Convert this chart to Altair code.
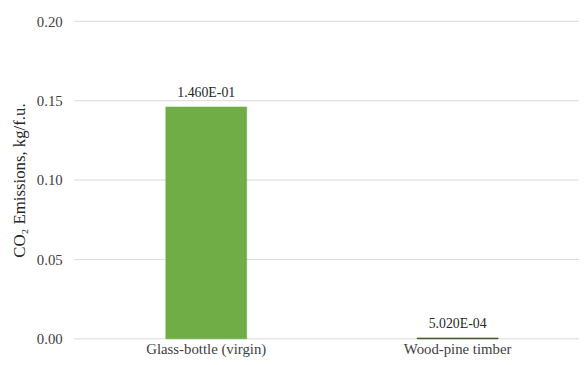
import altair as alt
import pandas as pd

categories = ["Glass-bottle (virgin)", "Wood-pine timber"]
values = [0.146, 0.000502]
labels = ["1.460E-01", "5.020E-04"]
y_ticks = [0, 0.05, 0.1, 0.15, 0.2]

df = pd.DataFrame({"cat": categories, "val": values, "lab": labels})
grid_df = pd.DataFrame({"t": y_ticks})

font = "Liberation Serif"
W, H = 512, 322

yscale = alt.Scale(domain=[0, 0.2])

grid = alt.Chart(grid_df).mark_rule(color="#d9d9d9", strokeWidth=1).encode(
    y=alt.Y("t:Q", scale=yscale, title="CO₂ Emissions, kg/f.u.",
            axis=alt.Axis(values=y_ticks, format=".2f", ticks=False, grid=False,
                          domain=False, labelFont=font,
                          labelFontSize=15, labelColor="#404040", labelPadding=12,
                          titleFont=font, titleFontSize=17, titleFontWeight="normal",
                          titleColor="#262626", titlePadding=8)),
    x=alt.value(0), x2=alt.value(W),
)

base = alt.Chart(df).encode(
    x=alt.X("cat:N", sort=categories, title=None,
            scale=alt.Scale(range=[93, 430], paddingInner=0.678, paddingOuter=0),
            axis=alt.Axis(labelAngle=0, ticks=False, domain=False, grid=False, labelFont=font,
                          labelFontSize=15, labelColor="#404040", labelPadding=3)),
)

bars = base.mark_bar(size=82).encode(
    y=alt.Y("val:Q", scale=yscale),
    color=alt.condition(alt.datum.val < 0.01, alt.value("#2f4a1c"), alt.value("#70ad47")),
    stroke=alt.condition(alt.datum.val < 0.01, alt.value("#2f4a1c"), alt.value("#70ad47")),
    strokeWidth=alt.value(0.6),
)

text = base.mark_text(font=font, fontSize=14, color="#262626", baseline="bottom", dy=-7).encode(
    y=alt.Y("val:Q", scale=yscale), text="lab:N"
)

chart = (grid + bars + text).properties(
    width=W, height=H,
    autosize=alt.AutoSizeParams(type="none"),
    padding={"left": 67, "top": 11, "right": 0, "bottom": 20},
).configure_view(stroke=None)

chart.save("out.html", embed_options={"renderer": "svg", "actions": False})
